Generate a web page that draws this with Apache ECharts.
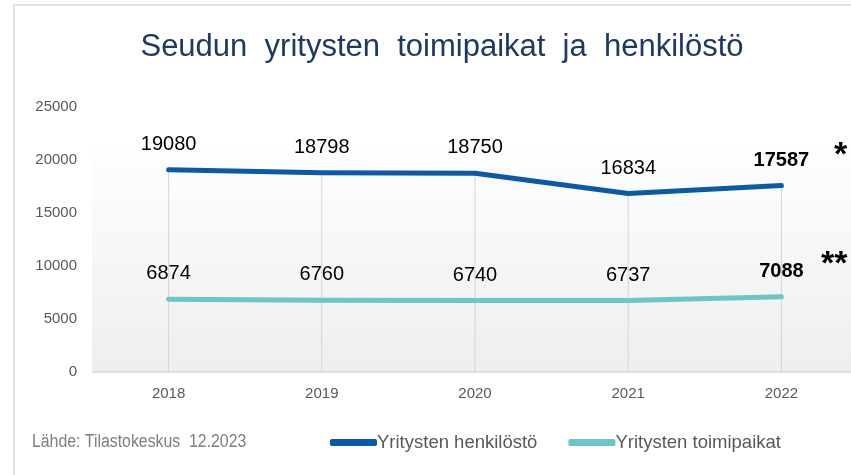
<!DOCTYPE html>
<html>
<head>
<meta charset="utf-8">
<script src="https://cdn.jsdelivr.net/npm/echarts@6/dist/echarts.min.js"></script>
<style>
  html, body { margin: 0; padding: 0; background: #fff; overflow: hidden; }
  #main { width: 858px; height: 475px; }
</style>
</head>
<body>
<div id="main"></div>
<script>
var years = ['2018', '2019', '2020', '2021', '2022']
var henkilosto = [19080, 18798, 18750, 16834, 17587]
var toimipaikat = [6874, 6760, 6740, 6737, 7088]
var yTicks = [0, 5000, 10000, 15000, 20000, 25000]

var blue = '#0b5aa7'
var teal = '#6cc6c6'
var font = 'Liberation Sans, Arial, sans-serif'

// viimeinen arvo lihavoituna
function lastBold(values) {
  return values.map(function (v, i) {
    if (i === values.length - 1) {
      return { value: v, label: { fontWeight: 'bold' } }
    }
    return v
  })
}

var chart = echarts.init(document.getElementById('main'))

var option = {
  backgroundColor: '#fff',
  animation: false,
  title: {
    text: 'Seudun  yritysten  toimipaikat  ja  henkilöstö',
    left: 437,
    top: 27,
    textAlign: 'center',
    textStyle: {
      fontFamily: font,
      fontSize: 31,
      fontWeight: 'normal',
      color: '#1f3864'
    }
  },
  legend: {
    left: 330,
    top: 433,
    padding: 0,
    itemWidth: 47,
    itemHeight: 7,
    itemGap: 31,
    icon: 'roundRect',
    data: ['Yritysten henkilöstö', 'Yritysten toimipaikat'],
    textStyle: {
      fontFamily: font,
      fontSize: 18.5,
      color: '#595959',
      padding: [0, 0, 0, -5]
    }
  },
  grid: {
    left: 92,
    right: 0,
    top: 107,
    height: 265,
    show: true,
    borderWidth: 0,
    backgroundColor: {
      type: 'linear', x: 0, y: 0, x2: 0, y2: 1,
      colorStops: [
        { offset: 0, color: '#ffffff' },
        { offset: 0.12, color: '#ffffff' },
        { offset: 1, color: '#eeeeee' }
      ]
    }
  },
  xAxis: {
    type: 'category',
    data: years,
    axisLine: { lineStyle: { color: '#d9d9d9', width: 1.5 } },
    axisTick: { show: false },
    axisLabel: { color: '#595959', fontFamily: font, fontSize: 15, margin: 14 },
    splitLine: { show: false }
  },
  yAxis: {
    type: 'value',
    min: yTicks[0],
    max: yTicks[yTicks.length - 1],
    interval: 5000,
    axisLine: { show: false },
    axisTick: { show: false },
    splitLine: { show: false },
    axisLabel: {
      color: '#595959', fontFamily: font, fontSize: 15, margin: 15,
      formatter: function (v) { return String(v) }
    }
  },
  series: [
    {
      // pystyviivat pisteistä akselille
      name: 'drop',
      type: 'bar',
      data: henkilosto,
      barWidth: 1,
      silent: true,
      z: 1,
      itemStyle: { color: '#d4d4d4' }
    },
    {
      name: 'Yritysten henkilöstö',
      type: 'line',
      data: lastBold(henkilosto),
      color: blue,
      symbol: 'circle',
      symbolSize: 1,
      showSymbol: true,
      z: 3,
      lineStyle: { width: 5, cap: 'round', join: 'round', color: blue },
      label: {
        show: true,
        position: 'top',
        distance: 15,
        fontFamily: font,
        fontSize: 20,
        color: '#000'
      }
    },
    {
      name: 'Yritysten toimipaikat',
      type: 'line',
      data: lastBold(toimipaikat),
      color: teal,
      symbol: 'circle',
      symbolSize: 1,
      showSymbol: true,
      z: 3,
      lineStyle: { width: 5, cap: 'round', join: 'round', color: teal },
      label: {
        show: true,
        position: 'top',
        distance: 15,
        fontFamily: font,
        fontSize: 20,
        color: '#000'
      }
    }
  ],
  graphic: [
    {
      type: 'rect',
      shape: { x: 14, y: 5, width: 900, height: 600 },
      style: { fill: 'none', stroke: '#d9d9d9', lineWidth: 1.5 },
      silent: true,
      z: 0
    },
    {
      type: 'text',
      x: 32,
      y: 442,
      scaleX: 0.88,
      style: {
        text: 'Lähde: Tilastokeskus  12.2023',
        fontFamily: font,
        fontSize: 18,
        verticalAlign: 'middle',
        fill: '#7f7f7f'
      }
    },
    {
      type: 'text',
      left: 834,
      top: 139,
      style: { text: '*', fontFamily: font, fontSize: 34, fontWeight: 'bold', fill: '#000' }
    },
    {
      type: 'text',
      left: 821,
      top: 248,
      style: { text: '**', fontFamily: font, fontSize: 34, fontWeight: 'bold', fill: '#000' }
    }
  ]
}

chart.setOption(option)
</script>
</body>
</html>
